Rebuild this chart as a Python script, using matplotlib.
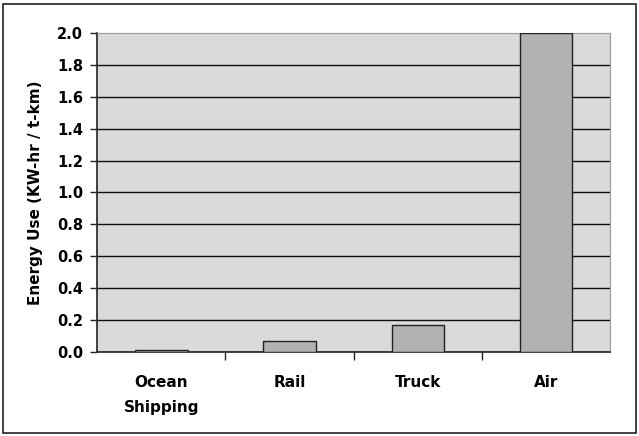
import matplotlib
matplotlib.use("Agg")
import matplotlib.pyplot as plt
from matplotlib.patches import Rectangle

categories = ["Ocean\nShipping", "Rail", "Truck", "Air"]
energy_use = [0.01, 0.07, 0.17, 2.0]
yticks = [0.0, 0.2, 0.4, 0.6, 0.8, 1.0, 1.2, 1.4, 1.6, 1.8, 2.0]

fig = plt.figure(figsize=(6.39, 4.36), dpi=100)
fig.patches.append(Rectangle((0.005, 0.008), 0.99, 0.983, transform=fig.transFigure,
                             fill=False, edgecolor="#222", linewidth=1.2))
ax = fig.add_axes([0.152, 0.193, 0.803, 0.731])
ax.set_facecolor("#dadada")

x = list(range(len(categories)))
ax.bar(x, energy_use, width=0.41, color="#b2b2b2", edgecolor="#222", linewidth=1.0, zorder=3)

ax.set_ylim(0, 2.0)
ax.set_xlim(-0.5, 3.5)
ax.set_yticks(yticks)
ax.set_yticklabels([f"{v:.1f}" for v in yticks], fontweight="bold", fontsize=10.5)
ax.yaxis.grid(True, color="#111", linewidth=1.0, zorder=1)
ax.get_ygridlines()[-1].set_visible(False)

ax.set_xticks([0.5, 1.5, 2.5])
ax.set_xticklabels([])
ax.tick_params(axis="x", direction="out", length=6, width=1.0, color="#222")
ax.tick_params(axis="y", direction="out", length=5, width=1.0, color="#222", pad=5)
for xi, lab in zip(x, categories):
    ax.text(xi, -0.145, lab, ha="center", va="top", fontsize=11, fontweight="bold",
            linespacing=1.8)

ax.set_ylabel("Energy Use (KW-hr / t-km)", fontsize=11, fontweight="bold", labelpad=10)

for side in ["top", "right"]:
    ax.spines[side].set_color("#999")
for side in ["left", "bottom"]:
    ax.spines[side].set_color("#222")
    ax.spines[side].set_linewidth(1.2)

fig.savefig("out.png", dpi=100)
